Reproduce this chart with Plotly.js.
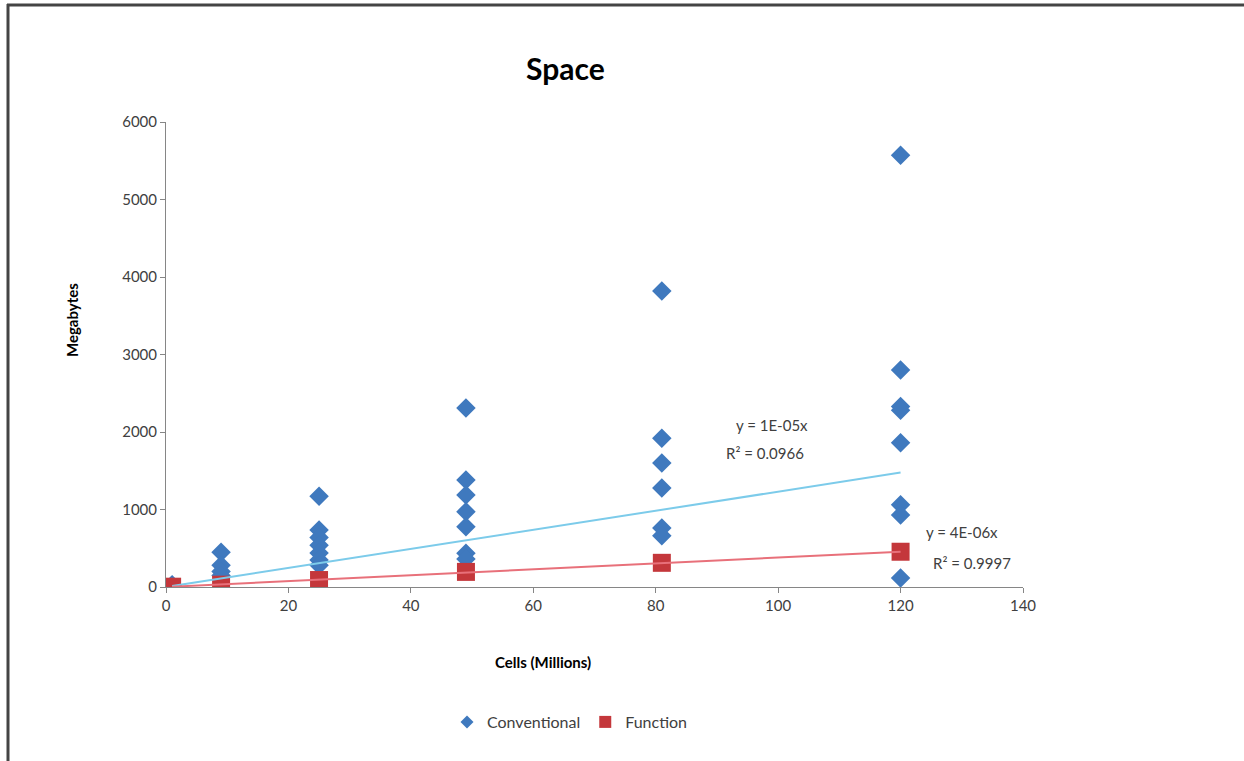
<!DOCTYPE html>
<html>
<head>
<meta charset="utf-8">
<script src="https://cdn.plot.ly/plotly-3.0.1.min.js"></script>
<style>
  html, body { margin: 0; padding: 0; background: #ffffff; }
  #chart { width: 1244px; height: 761px; }
</style>
</head>
<body>
<div id="chart"></div>
<script>
// ---- Data ----
const conventionalX = [
  1, 1, 1, 1,
  9, 9, 9, 9,
  25, 25, 25, 25, 25, 25, 25,
  49, 49, 49, 49, 49, 49, 49,
  81, 81, 81, 81, 81, 81,
  120, 120, 120, 120, 120, 120, 120, 120
];
const conventionalY = [
  30, 20, 10, 5,
  450, 280, 200, 150,
  1170, 735, 640, 540, 440, 350, 280,
  2310, 1380, 1187, 972, 778, 436, 360,
  3820, 1920, 1600, 1277, 760, 660,
  5570, 2800, 2330, 2280, 1860, 1060, 930, 116
];
const functionX = [1, 9, 25, 49, 81, 120];
const functionY = [4, 30, 90, 195, 312, 455];

// Trendline slopes (MB per million cells) as drawn in the reference, through origin
const trendSlopeConventional = 12.3;
const trendSlopeFunction = 3.8;
const trendRange = [1, 120];

const xTicks = [0, 20, 40, 60, 80, 100, 120, 140];
const yTicks = [0, 1000, 2000, 3000, 4000, 5000, 6000];

const seriesNames = ['Conventional', 'Function'];
const eqConventional = ['y = 1E-05x', 'R² = 0.0966'];
const eqFunction = ['y = 4E-06x', 'R² = 0.9997'];

// ---- Traces ----
const FONT = 'Lato, "Open Sans", "Liberation Sans", sans-serif';
const textCol = '#404040';
const axisCol = '#868686';
const blue = '#3F79BE';
const red = '#C4373B';

const traces = [
  {
    x: conventionalX, y: conventionalY, type: 'scatter', mode: 'markers',
    name: seriesNames[0], showlegend: false,
    marker: { symbol: 'diamond', size: 15, color: blue }
  },
  {
    x: functionX, y: functionY, type: 'scatter', mode: 'markers',
    name: seriesNames[1], showlegend: false,
    marker: { symbol: 'square', size: 18, color: red }
  },
  {
    x: trendRange, y: trendRange.map(v => v * trendSlopeConventional),
    type: 'scatter', mode: 'lines', showlegend: false, hoverinfo: 'skip',
    line: { color: '#7CCBEA', width: 2 }
  },
  {
    x: trendRange, y: trendRange.map(v => v * trendSlopeFunction),
    type: 'scatter', mode: 'lines', showlegend: false, hoverinfo: 'skip',
    line: { color: '#E8707A', width: 2 }
  },
  // legend entries (small symbols like the reference legend)
  {
    x: [null], y: [null], type: 'scatter', mode: 'markers', name: seriesNames[0],
    marker: { symbol: 'diamond', size: 10, color: blue }
  },
  {
    x: [null], y: [null], type: 'scatter', mode: 'markers', name: seriesNames[1],
    marker: { symbol: 'square', size: 12, color: red }
  }
];

// ---- Layout ----
const W = 1244, H = 761;
const L = 166, R = 1023, T = 122, B = 587;
const pw = R - L, ph = B - T;
const px = v => (v - L) / pw;          // pixel -> paper x
const py = v => (B - v) / ph;          // pixel -> paper y

const layout = {
  width: W, height: H,
  margin: { l: L, r: W - R, t: T, b: H - B, pad: 0 },
  paper_bgcolor: '#ffffff', plot_bgcolor: '#ffffff',
  font: { family: FONT, color: textCol, size: 15 },
  showlegend: true,
  legend: {
    orientation: 'h', x: px(570), y: py(722), xanchor: 'center', yanchor: 'middle',
    font: { family: FONT, size: 16, color: textCol }, itemwidth: 30,
    traceorder: 'normal'
  },
  xaxis: {
    range: [0, 140], tickvals: xTicks, ticktext: xTicks.map(String),
    showgrid: false, zeroline: false, showline: true, linecolor: axisCol, linewidth: 1,
    ticks: 'outside', ticklen: 5, tickcolor: axisCol,
    tickfont: { family: FONT, size: 15, color: textCol }
  },
  yaxis: {
    range: [0, 6000], tickvals: yTicks, ticktext: yTicks.map(String),
    showgrid: false, zeroline: false, showline: true, linecolor: axisCol, linewidth: 1,
    ticks: 'outside', ticklen: 5, tickcolor: axisCol,
    tickfont: { family: FONT, size: 15, color: textCol }
  },
  annotations: [
    { text: '<b>Space</b>', xref: 'paper', yref: 'paper', x: px(565), y: py(68),
      showarrow: false, font: { family: FONT, size: 30, color: '#000000' }, xanchor: 'center', yanchor: 'middle' },
    { text: '<b>Cells (Millions)</b>', xref: 'paper', yref: 'paper', x: px(543), y: py(662),
      showarrow: false, font: { family: FONT, size: 15, color: '#000000' }, xanchor: 'center', yanchor: 'middle' },
    { text: '<b>Megabytes</b>', xref: 'paper', yref: 'paper', x: px(72), y: py(320), textangle: -90,
      showarrow: false, font: { family: FONT, size: 15, color: '#000000' }, xanchor: 'center', yanchor: 'middle' },
    { text: eqConventional[0], xref: 'paper', yref: 'paper', x: px(772), y: py(425),
      showarrow: false, font: { family: FONT, size: 15, color: textCol }, xanchor: 'center', yanchor: 'middle' },
    { text: eqConventional[1], xref: 'paper', yref: 'paper', x: px(765), y: py(453),
      showarrow: false, font: { family: FONT, size: 15, color: textCol }, xanchor: 'center', yanchor: 'middle' },
    { text: eqFunction[0], xref: 'paper', yref: 'paper', x: px(962), y: py(532),
      showarrow: false, font: { family: FONT, size: 15, color: textCol }, xanchor: 'center', yanchor: 'middle' },
    { text: eqFunction[1], xref: 'paper', yref: 'paper', x: px(972), y: py(563),
      showarrow: false, font: { family: FONT, size: 15, color: textCol }, xanchor: 'center', yanchor: 'middle' }
  ],
  shapes: [
    { type: 'line', xref: 'paper', yref: 'paper', x0: px(8), x1: px(8), y0: py(770), y1: py(4),
      line: { color: '#444444', width: 3 } },
    { type: 'line', xref: 'paper', yref: 'paper', x0: px(7), x1: px(1250), y0: py(5), y1: py(5),
      line: { color: '#444444', width: 3 } }
  ]
};

Plotly.newPlot('chart', traces, layout, { displayModeBar: false, staticPlot: true });
</script>
</body>
</html>
